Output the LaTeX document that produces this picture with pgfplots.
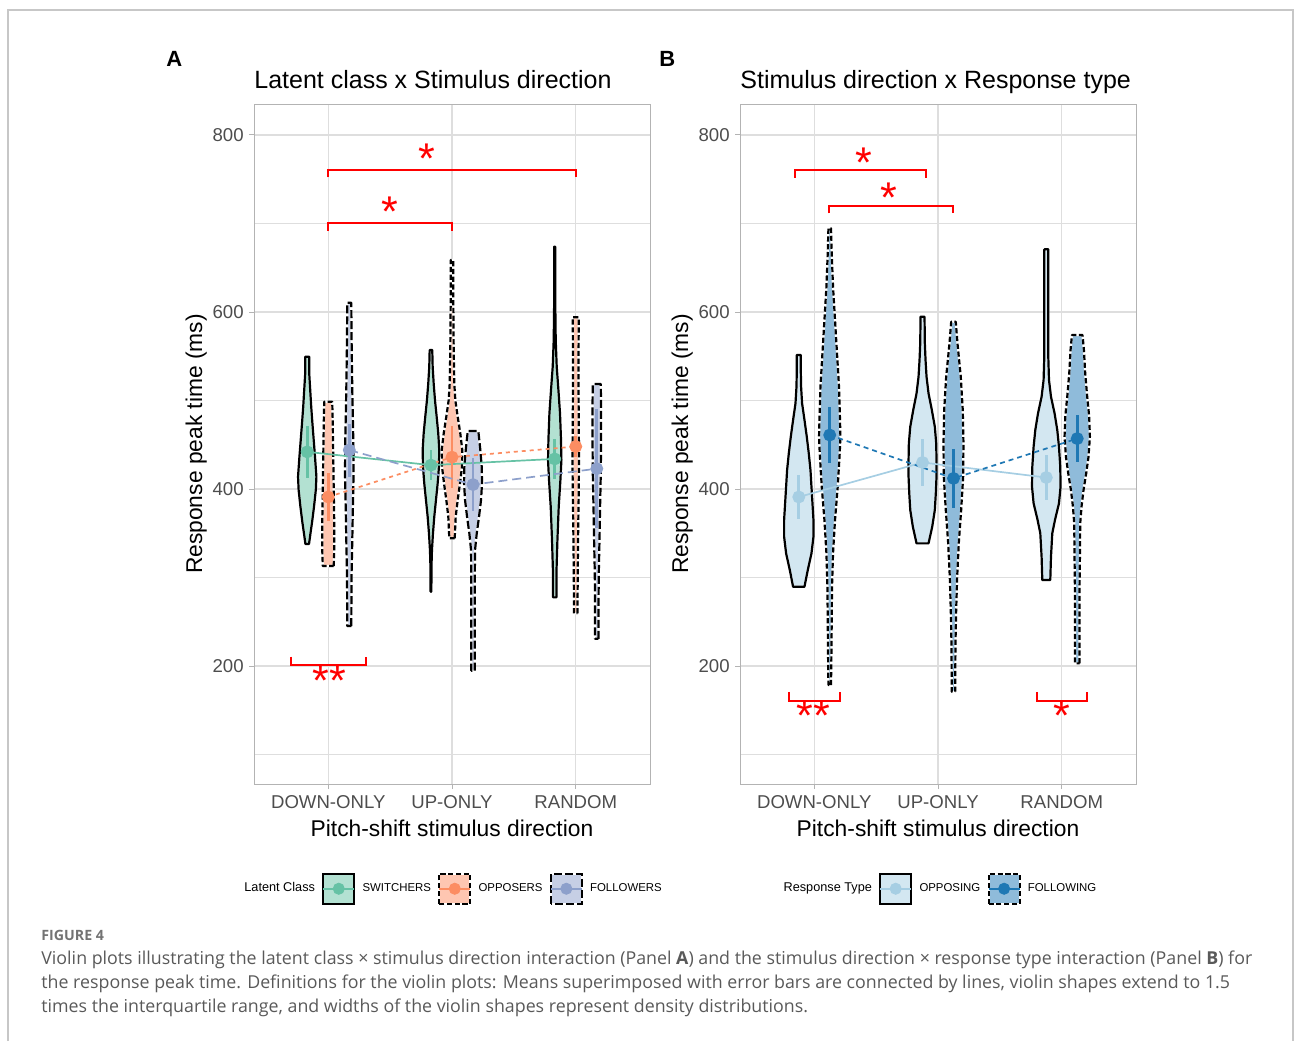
\documentclass[border=0pt]{standalone}
\usepackage{pgfplots}
\pgfplotsset{compat=1.18}
\usepackage{pgfplotstable}
\usepackage{fontspec}
\setmainfont{Liberation Sans}
\newfontfamily\capfont{Open Sans}

\definecolor{sw}{HTML}{66C2A5}\definecolor{swf}{HTML}{B3E1D2}
\definecolor{op}{HTML}{FC8D62}\definecolor{opf}{HTML}{FEC6B1}
\definecolor{fo}{HTML}{8DA0CB}\definecolor{fof}{HTML}{C6CFE5}
\definecolor{opp}{HTML}{A6CEE3}\definecolor{oppf}{HTML}{D3E7F1}
\definecolor{fol}{HTML}{1F78B4}\definecolor{folf}{HTML}{8FBBDA}
\definecolor{gridc}{HTML}{DEDEDE}
\definecolor{g70}{HTML}{B3B3B3}
\definecolor{g30}{HTML}{4D4D4D}
\definecolor{capc}{HTML}{595959}

% violin outlines: d = signed half width (px; 124 px = 1 category), y in ms
\pgfplotstableread{
d y
1.8 337.9
2.8 346.2
4.7 361.2
6.8 380.0
8.6 398.9
9.2 413.9
7.8 436.5
6.5 455.4
5.2 474.2
4.0 493.0
3.0 511.9
2.0 530.7
2.0 549.5
-2.0 549.5
-2.0 530.7
-3.0 511.9
-4.0 493.0
-5.2 474.2
-6.5 455.4
-7.8 436.5
-9.2 413.9
-8.6 398.9
-6.8 380.0
-4.7 361.2
-2.8 346.2
-1.8 337.9
}\tASWD
\pgfplotstableread{
d y
5.5 313.0
6.0 331.1
6.0 361.2
5.5 398.9
5.0 436.5
4.5 474.2
4.0 498.7
-4.0 498.7
-4.5 474.2
-5.0 436.5
-5.5 398.9
-6.0 361.2
-6.0 331.1
-5.5 313.0
}\tAOPD
\pgfplotstableread{
d y
2.0 245.2
2.3 304.7
3.0 342.4
3.6 380.0
4.3 417.8
4.0 455.4
3.0 511.9
2.3 568.4
2.0 610.5
-2.0 610.5
-2.3 568.4
-3.0 511.9
-4.0 455.4
-4.3 417.8
-3.6 380.0
-3.0 342.4
-2.3 304.7
-2.0 245.2
}\tAFOD
\pgfplotstableread{
d y
0.4 284.0
0.5 312.2
1.0 331.1
2.0 349.9
3.3 368.7
5.0 387.6
6.7 406.4
8.0 425.2
8.3 444.1
7.3 462.9
5.7 481.7
4.0 500.6
2.7 519.4
1.7 538.2
1.3 557.0
-1.3 557.0
-1.7 538.2
-2.7 519.4
-4.0 500.6
-5.7 481.7
-7.3 462.9
-8.3 444.1
-8.0 425.2
-6.7 406.4
-5.0 387.6
-3.3 368.7
-2.0 349.9
-1.0 331.1
-0.5 312.2
-0.4 284.0
}\tASWU
\pgfplotstableread{
d y
2.7 344.3
3.7 368.7
5.7 387.6
8.0 406.4
10.0 425.2
10.3 444.1
8.3 462.9
5.7 481.7
3.3 500.6
2.3 519.4
1.7 557.0
1.3 613.5
1.3 658.7
-1.3 658.7
-1.3 613.5
-1.7 557.0
-2.3 519.4
-3.3 500.6
-5.7 481.7
-8.3 462.9
-10.3 444.1
-10.0 425.2
-8.0 406.4
-5.7 387.6
-3.7 368.7
-2.7 344.3
}\tAOPU
\pgfplotstableread{
d y
1.7 194.7
1.7 255.7
1.7 293.4
2.0 331.1
3.7 349.9
6.0 368.7
8.0 387.6
9.0 406.4
8.7 425.2
7.3 444.1
5.3 465.5
-5.3 465.5
-7.3 444.1
-8.7 425.2
-9.0 406.4
-8.0 387.6
-6.0 368.7
-3.7 349.9
-2.0 331.1
-1.7 293.4
-1.7 255.7
-1.7 194.7
}\tAFOU
\pgfplotstableread{
d y
1.7 277.6
1.7 304.7
2.7 342.4
4.0 380.0
5.7 410.2
6.7 432.8
6.3 455.4
5.3 485.5
3.7 511.9
2.0 538.2
1.0 568.4
0.6 606.0
0.6 673.8
-0.6 673.8
-0.6 606.0
-1.0 568.4
-2.0 538.2
-3.7 511.9
-5.3 485.5
-6.3 455.4
-6.7 432.8
-5.7 410.2
-4.0 380.0
-2.7 342.4
-1.7 304.7
-1.7 277.6
}\tASWR
\pgfplotstableread{
d y
1.7 259.5
2.0 304.7
2.3 342.4
3.0 398.9
3.3 436.5
3.0 474.2
2.7 530.7
3.0 594.0
-3.0 594.0
-2.7 530.7
-3.0 474.2
-3.3 436.5
-3.0 398.9
-2.3 342.4
-2.0 304.7
-1.7 259.5
}\tAOPR
\pgfplotstableread{
d y
1.7 230.8
1.7 267.0
2.0 304.7
2.7 342.4
3.3 380.0
4.0 417.8
4.3 455.4
4.3 493.0
4.0 518.6
-4.0 518.6
-4.3 493.0
-4.3 455.4
-4.0 417.8
-3.3 380.0
-2.7 342.4
-2.0 304.7
-1.7 267.0
-1.7 230.8
}\tAFOR
\pgfplotstableread{
d y
5.7 289.6
9.0 308.4
12.7 327.3
14.7 346.1
14.7 365.0
13.7 383.8
12.7 402.6
11.7 421.5
10.0 440.3
8.0 459.1
5.7 478.0
3.3 496.8
2.3 515.6
2.0 534.5
2.0 551.4
-2.0 551.4
-2.0 534.5
-2.3 515.6
-3.3 496.8
-5.7 478.0
-8.0 459.1
-10.0 440.3
-11.7 421.5
-12.7 402.6
-13.7 383.8
-14.7 365.0
-14.7 346.1
-12.7 327.3
-9.0 308.4
-5.7 289.6
}\tBOPPD
\pgfplotstableread{
d y
1.3 178.5
1.7 214.3
2.0 251.9
2.3 289.6
3.3 327.3
5.3 365.0
8.0 402.6
10.0 440.3
10.7 459.1
10.3 478.0
9.3 515.6
7.3 553.3
5.3 590.9
3.3 628.6
2.0 666.3
1.3 694.6
-1.3 694.6
-2.0 666.3
-3.3 628.6
-5.3 590.9
-7.3 553.3
-9.3 515.6
-10.3 478.0
-10.7 459.1
-10.0 440.3
-8.0 402.6
-5.3 365.0
-3.3 327.3
-2.3 289.6
-2.0 251.9
-1.7 214.3
-1.3 178.5
}\tBFOLD
\pgfplotstableread{
d y
6.0 338.6
9.7 357.4
12.3 376.3
13.3 395.1
14.0 413.9
14.0 432.8
13.7 451.6
12.3 470.4
9.3 489.3
6.0 508.1
4.0 526.9
3.0 545.8
2.3 564.6
2.0 594.7
-2.0 594.7
-2.3 564.6
-3.0 545.8
-4.0 526.9
-6.0 508.1
-9.3 489.3
-12.3 470.4
-13.7 451.6
-14.0 432.8
-14.0 413.9
-13.3 395.1
-12.3 376.3
-9.7 357.4
-6.0 338.6
}\tBOPPU
\pgfplotstableread{
d y
1.7 171.0
2.0 225.6
2.7 263.3
3.7 300.9
5.3 338.6
7.7 376.3
9.7 413.9
10.0 451.6
9.3 489.3
7.3 526.9
4.0 564.6
2.3 589.0
-2.3 589.0
-4.0 564.6
-7.3 526.9
-9.3 489.3
-10.0 451.6
-9.7 413.9
-7.7 376.3
-5.3 338.6
-3.7 300.9
-2.7 263.3
-2.0 225.6
-1.7 171.0
}\tBFOLU
\pgfplotstableread{
d y
4.0 297.2
4.7 323.5
6.0 349.9
8.7 365.0
12.7 383.8
14.3 402.6
14.0 425.2
12.7 447.8
11.0 466.7
8.3 485.5
4.7 504.3
2.7 523.2
2.0 549.5
2.0 606.0
2.0 670.8
-2.0 670.8
-2.0 606.0
-2.0 549.5
-2.7 523.2
-4.7 504.3
-8.3 485.5
-11.0 466.7
-12.7 447.8
-14.0 425.2
-14.3 402.6
-12.7 383.8
-8.7 365.0
-6.0 349.9
-4.7 323.5
-4.0 297.2
}\tBOPPR
\pgfplotstableread{
d y
2.3 203.0
2.3 248.2
2.3 285.9
2.7 323.5
3.0 361.2
4.3 380.0
6.3 398.9
9.0 417.8
11.3 436.5
12.7 459.1
12.0 481.7
10.0 504.3
8.0 530.7
6.7 557.0
5.3 574.0
-5.3 574.0
-6.7 557.0
-8.0 530.7
-10.0 504.3
-12.0 481.7
-12.7 459.1
-11.3 436.5
-9.0 417.8
-6.3 398.9
-4.3 380.0
-3.0 361.2
-2.7 323.5
-2.3 285.9
-2.3 248.2
-2.3 203.0
}\tBFOLR

\newcommand{\violin}[4]{%
  \addplot[fill=#3, draw=white, line width=1.1pt, line join=round, forget plot]
    table[x expr={#2+\thisrow{d}/124}, y=y] {#1} -- cycle;
  \addplot[draw=black, line width=1.1pt, line join=round, #4, forget plot]
    table[x expr={#2+\thisrow{d}/124}, y=y] {#1} -- cycle;
}

\tikzset{
  stars/.style={red, font=\fontsize{21.5}{24}\selectfont, anchor=base, inner sep=0pt},
}
\pgfplotsset{
  lgbox/.style n args={3}{legend image code/.code={
    \draw[fill=#1, draw=white, line width=1.1pt] (0pt,-7.5pt) rectangle (15.5pt,7.5pt);
    \draw[draw=black, line width=1.1pt, #3] (0pt,-7.5pt) rectangle (15.5pt,7.5pt);
    \draw[#2, line width=0.85pt] (0pt,0pt) -- (15.5pt,0pt);
    \fill[#2] (7.75pt,0pt) circle (2.8pt);
  }},
  vbase/.style={
    scale only axis, width=198pt, height=340pt,
    anchor=south west,
    xmin=0.4, xmax=3.6, ymin=66.7, ymax=835,
    xtick={1,2,3}, xticklabels={DOWN-ONLY,UP-ONLY,RANDOM},
    ytick={200,400,600,800}, minor ytick={100,300,500,700},
    grid=both,
    major grid style={draw=gridc, line width=0.55pt},
    minor grid style={draw=gridc, line width=0.3pt},
    axis line style={draw=g70, line width=0.5pt},
    tick style={draw=g70, line width=0.5pt},
    tick align=outside, major tick length=2.5pt, minor tick length=0pt,
    xtick pos=bottom, ytick pos=left,
    /pgf/number format/assume math mode=true,
    ticklabel style={font=\fontsize{9.3}{11}\selectfont, text=g30},
    yticklabel style={anchor=east, inner sep=0pt, xshift=-2.5pt},
    xticklabel style={anchor=base, inner sep=0pt, yshift=-9.5pt},
    xlabel={Pitch-shift stimulus direction},
    ylabel={Response peak time (ms)},
    label style={font=\fontsize{11.4}{13}\selectfont},
    xlabel style={at={(axis description cs:0.5,-0.0765)}, anchor=base, inner sep=0pt},
    ylabel style={at={(axis description cs:-0.1313,0.5)}, anchor=base, inner sep=0pt},
    title style={at={(axis description cs:0,1)}, anchor=base west, yshift=2pt, inner sep=0pt, font=\fontsize{12.5}{15}\selectfont},
    legend style={draw=none, fill=none, inner sep=0pt, legend columns=-1,
      column sep=1.6pt, font=\fontsize{5.7}{6.8}\selectfont, nodes={inner xsep=2pt}},
    legend cell align=left,
  },
  brk/.style={red, line width=1pt, forget plot},
}

\begin{document}
\begin{tikzpicture}
\path[use as bounding box] (0pt,0pt) rectangle (647pt,-520.5pt);
\draw[color=black!22, line width=0.6pt] (4pt,-520.5pt)--(4pt,-5pt)--(646.5pt,-5pt)--(646.5pt,-520.5pt);

\node[anchor=base west, inner sep=0pt, font=\bfseries\fontsize{11}{13}\selectfont] at (83pt,-33pt) {A};
\node[anchor=base west, inner sep=0pt, font=\bfseries\fontsize{11}{13}\selectfont] at (329.5pt,-33pt) {B};

% ================= Panel A =================
\begin{axis}[vbase, at={(127pt,-392pt)},
  title={Latent class x Stimulus direction},
  legend style={at={(-0.0435,-0.154)}, anchor=west}]
\addlegendimage{empty legend}\addlegendentry{\fontsize{6.35}{7.5}\selectfont Latent Class}
\addlegendimage{lgbox={swf}{sw}{solid}}\addlegendentry{SWITCHERS}
\addlegendimage{lgbox={opf}{op}{dash pattern=on 2.6pt off 1.3pt}}\addlegendentry{OPPOSERS}
\addlegendimage{lgbox={fof}{fo}{dash pattern=on 4pt off 1.5pt}}\addlegendentry{FOLLOWERS}

\violin{\tASWD}{0.83}{swf}{solid}
\violin{\tAOPD}{1.00}{opf}{dash pattern=on 2.6pt off 1.3pt}
\violin{\tAFOD}{1.17}{fof}{dash pattern=on 4pt off 1.5pt}
\violin{\tASWU}{1.83}{swf}{solid}
\violin{\tAOPU}{2.00}{opf}{dash pattern=on 2.6pt off 1.3pt}
\violin{\tAFOU}{2.17}{fof}{dash pattern=on 4pt off 1.5pt}
\violin{\tASWR}{2.83}{swf}{solid}
\violin{\tAOPR}{3.00}{opf}{dash pattern=on 2.6pt off 1.3pt}
\violin{\tAFOR}{3.17}{fof}{dash pattern=on 4pt off 1.5pt}

\addplot[sw, line width=0.85pt, mark=*, mark size=2.8pt, mark options={solid}, forget plot,
  error bars/.cd, y dir=both, y explicit, error mark=none, error bar style={line width=1.35pt, solid}]
  coordinates {(0.83,442) +- (0,29) (1.83,427) +- (0,17) (2.83,434) +- (0,23)};
\addplot[op, line width=0.85pt, dash pattern=on 2pt off 2pt, mark=*, mark size=2.8pt, mark options={solid}, forget plot,
  error bars/.cd, y dir=both, y explicit, error mark=none, error bar style={line width=1.35pt, solid}]
  coordinates {(1,391) +- (0,27) (2,436) +- (0,35) (3,448) +- (0,12)};
\addplot[fo, line width=0.85pt, dash pattern=on 4.5pt off 2.5pt, mark=*, mark size=2.8pt, mark options={solid}, forget plot,
  error bars/.cd, y dir=both, y explicit, error mark=none, error bar style={line width=1.35pt, solid}]
  coordinates {(1.17,444) +- (0,30) (2.17,405) +- (0,30) (3.17,423) +- (0,67)};

\addplot[brk] coordinates {(1,752.2) (1,760.5) (3,760.5) (3,752.2)};
\addplot[brk] coordinates {(1,691.9) (1,700.9) (2,700.9) (2,691.9)};
\addplot[brk] coordinates {(0.699,210.5) (0.699,201.1) (1.304,201.1) (1.304,210.5)};
\node[stars] at (axis cs:1.796,757) {*};
\node[stars] at (axis cs:1.494,697) {*};
\node[stars] at (axis cs:1.01,167) {**};
\end{axis}

% ================= Panel B =================
\begin{axis}[vbase, at={(370pt,-392pt)},
  title={Stimulus direction x Response type},
  legend style={at={(0.091,-0.154)}, anchor=west}]
\addlegendimage{empty legend}\addlegendentry{\fontsize{6.35}{7.5}\selectfont Response Type}
\addlegendimage{lgbox={oppf}{opp}{solid}}\addlegendentry{OPPOSING}
\addlegendimage{lgbox={folf}{fol}{dash pattern=on 2.6pt off 1.3pt}}\addlegendentry{FOLLOWING}

\violin{\tBOPPD}{0.875}{oppf}{solid}
\violin{\tBFOLD}{1.125}{folf}{dash pattern=on 2.6pt off 1.3pt}
\violin{\tBOPPU}{1.875}{oppf}{solid}
\violin{\tBFOLU}{2.125}{folf}{dash pattern=on 2.6pt off 1.3pt}
\violin{\tBOPPR}{2.875}{oppf}{solid}
\violin{\tBFOLR}{3.125}{folf}{dash pattern=on 2.6pt off 1.3pt}

\addplot[opp, line width=0.85pt, mark=*, mark size=2.8pt, mark options={solid}, forget plot,
  error bars/.cd, y dir=both, y explicit, error mark=none, error bar style={line width=1.35pt, solid}]
  coordinates {(0.875,391) +- (0,25) (1.875,430) +- (0,27) (2.875,413) +- (0,25)};
\addplot[fol, line width=0.85pt, dash pattern=on 2.5pt off 2pt, mark=*, mark size=2.8pt, mark options={solid}, forget plot,
  error bars/.cd, y dir=both, y explicit, error mark=none, error bar style={line width=1.35pt, solid}]
  coordinates {(1.125,461) +- (0,32) (2.125,412) +- (0,33) (3.125,457) +- (0,27)};

\addplot[brk] coordinates {(0.847,751.7) (0.847,760.5) (1.903,760.5) (1.903,751.7)};
\addplot[brk] coordinates {(1.121,711.5) (1.121,720.1) (2.123,720.1) (2.123,711.5)};
\addplot[brk] coordinates {(0.798,170.9) (0.798,160.8) (1.204,160.8) (1.204,170.9)};
\addplot[brk] coordinates {(2.80,170.9) (2.80,160.8) (3.20,160.8) (3.20,170.9)};
\node[stars] at (axis cs:1.398,752) {*};
\node[stars] at (axis cs:1.6,712.5) {*};
\node[stars] at (axis cs:0.995,127) {**};
\node[stars] at (axis cs:3.0,127) {*};
\end{axis}

% ================= Caption =================
\node[anchor=base west, inner sep=0pt, font=\capfont\bfseries\fontsize{7.1}{8}\selectfont, text=black!55] at (20.5pt,-470pt) {FIGURE 4};
\node[anchor=base west, inner sep=0pt, font=\capfont\fontsize{8.9}{12}\selectfont, text=capc] at (20.5pt,-482pt)
  {Violin plots illustrating the latent class × stimulus direction interaction (Panel \textbf{A}) and the stimulus direction × response type interaction (Panel \textbf{B}) for};
\node[anchor=base west, inner sep=0pt, font=\capfont\fontsize{8.9}{12}\selectfont, text=capc] at (20.5pt,-494pt)
  {the response peak time. Definitions for the violin plots: Means superimposed with error bars are connected by lines, violin shapes extend to 1.5};
\node[anchor=base west, inner sep=0pt, font=\capfont\fontsize{8.9}{12}\selectfont, text=capc] at (20.5pt,-506pt)
  {times the interquartile range, and widths of the violin shapes represent density distributions.};
\end{tikzpicture}
\end{document}
